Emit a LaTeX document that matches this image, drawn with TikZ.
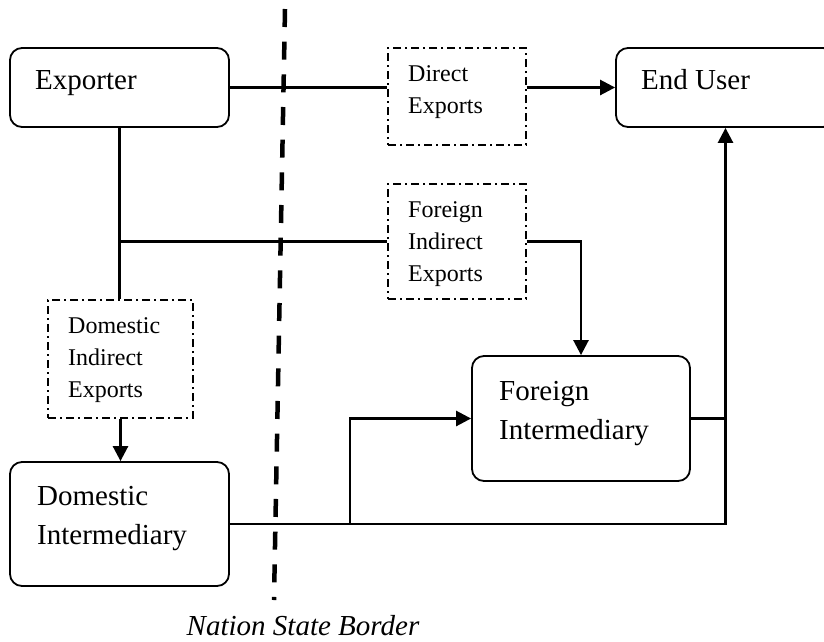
\documentclass[tikz,border=0pt]{standalone}
\usepackage{fontspec}
\setmainfont{Liberation Serif}
\usetikzlibrary{arrows.meta}
\begin{document}
\begin{tikzpicture}[x=1pt,y=-1pt,
  mainbox/.style={draw, line width=1.8pt, rounded corners=12pt, inner sep=0pt},
  subbox/.style={draw, line width=1.4pt, dash pattern=on 8pt off 4pt on 2pt off 4pt, inner sep=0pt},
  bigtxt/.style={anchor=base west, inner sep=0pt, font=\fontsize{29}{39}\selectfont},
  smalltxt/.style={anchor=base west, inner sep=0pt, font=\fontsize{24}{32}\selectfont},
  link/.style={line width=2.6pt},
  arr/.style={link, -{Triangle[length=15pt,width=15pt]}},
  borderline/.style={line width=4.5pt, dash pattern=on 18pt off 14.67pt}]
\useasboundingbox (0,0) rectangle (824,641);

% boxes
\node[mainbox, minimum width=219pt, minimum height=79pt] (exp) at (119.5,87.5) {};
\node[mainbox, minimum width=219pt, minimum height=79pt] (eu) at (725.5,87.5) {};
\node[subbox, minimum width=138pt, minimum height=97pt] (de) at (457,96.5) {};
\node[subbox, minimum width=138pt, minimum height=115pt] (fie) at (457,241.5) {};
\node[subbox, minimum width=145pt, minimum height=118pt] (die) at (120.5,359) {};
\node[mainbox, minimum width=219pt, minimum height=124pt] (dint) at (119.5,524) {};
\node[mainbox, minimum width=218pt, minimum height=125pt] (fi) at (581,418.5) {};

% texts
\node[bigtxt] (exp-t) at (35,89) {Exporter};
\node[bigtxt] (eu-t) at (641,89) {End User};
\node[smalltxt] (de-t) at (408,81) {\vtop{\hbox{Direct}\hbox{Exports}}};
\node[smalltxt] (fie-t) at (408,217) {\vtop{\hbox{Foreign}\hbox{Indirect}\hbox{Exports}}};
\node[smalltxt] (die-t) at (68,333) {\vtop{\hbox{Domestic}\hbox{Indirect}\hbox{Exports}}};
\node[bigtxt] (dint-t) at (37,505) {\vtop{\hbox{Domestic}\hbox{Intermediary}}};
\node[bigtxt] (fi-t) at (499,400) {\vtop{\hbox{Foreign}\hbox{Intermediary}}};

% connectors
\draw[link] (exp.east) -- (exp.east -| de.west);
\draw[arr] (de.east |- exp.east) -- (eu.west);
\draw[link] (exp.south) -- (exp.south |- die.north);
\draw[link] (exp.south |- fie.west) -- (fie.west);
\draw[arr] (fie.east) -| (fi.north);
\draw[arr] (die.south) -- (die.south |- dint.north);
\draw[arr] (dint.east) -| (eu.south);
\coordinate (j) at (350,524);
\draw[arr] (j) |- (fi.west);
\draw[link] (fi.east) -- (fi.east -| eu.south);

% border
\coordinate (bt) at (285,9);
\coordinate (bb) at (274,600);
\draw[borderline] (bt) -- (bb);
\node[anchor=base, inner sep=0pt, font=\fontsize{29}{35}\selectfont\itshape] (nsb) at (303,635) {Nation State Border};
\end{tikzpicture}
\end{document}
